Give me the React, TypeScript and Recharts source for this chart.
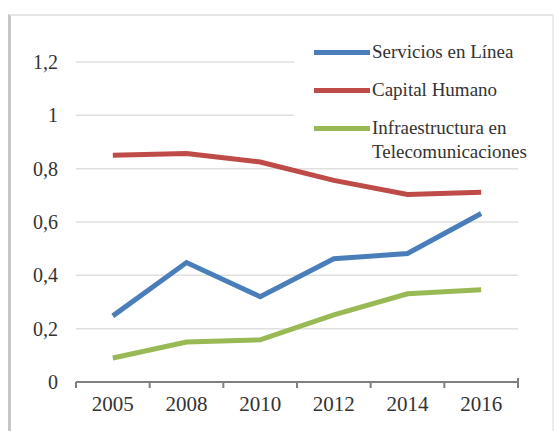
import React from 'react';
import { LineChart, Line, XAxis, YAxis, CartesianGrid, Legend } from 'recharts';

const years = ['2005', '2008', '2010', '2012', '2014', '2016'];
const serviciosEnLinea = [0.248, 0.448, 0.32, 0.462, 0.482, 0.632];
const capitalHumano = [0.85, 0.857, 0.825, 0.756, 0.703, 0.712];
const infraestructura = [0.09, 0.15, 0.158, 0.252, 0.331, 0.346];
const seriesNames = ['Servicios en Línea', 'Capital Humano', 'Infraestructura en Telecomunicaciones'];
const yTicks = [0, 0.2, 0.4, 0.6, 0.8, 1, 1.2];

const data = years.map((year, i) => ({
  year,
  servicios: serviciosEnLinea[i],
  capital: capitalHumano[i],
  infra: infraestructura[i],
}));

const FONT = '"Liberation Serif", "Times New Roman", serif';
const AXIS_COLOR = '#7f7f7f';
const TICK_MARGIN = 14;

// category label plus Excel-style tick marks between the categories
function YearTick(props: any) {
  const { x, y, payload, index, visibleTicksCount, width } = props;
  const half = width / visibleTicksCount / 2;
  const axisY = y - TICK_MARGIN;
  return (
    <g>
      <line x1={x - half} x2={x - half} y1={axisY} y2={axisY + 6} stroke={AXIS_COLOR} strokeWidth={2} />
      {index === visibleTicksCount - 1 && (
        <line x1={x + half} x2={x + half} y1={axisY - 4} y2={axisY + 6} stroke={AXIS_COLOR} strokeWidth={2} />
      )}
      <text x={x} y={y} dy="0.71em" textAnchor="middle" fontSize={21} fill="#333" fontFamily={FONT}>
        {payload.value}
      </text>
    </g>
  );
}

function LegendContent({ payload }: any) {
  const items = [...(payload || [])].sort(
    (a: any, b: any) => seriesNames.indexOf(a.value) - seriesNames.indexOf(b.value)
  );
  return (
    <div style={{ background: '#fff', padding: '8px 0 4px 20px', fontFamily: FONT, textAlign: 'left' }}>
      {items.map((p: any, i: number) => (
        <div
          key={p.value}
          style={{ display: 'flex', alignItems: 'flex-start', marginBottom: i < items.length - 1 ? 14 : 0 }}
        >
          <div style={{ width: 56, height: 5, background: p.color, marginTop: 10, flexShrink: 0 }} />
          <span style={{ fontSize: 19, lineHeight: '24px', color: '#333', width: 165, marginLeft: 2 }}>
            {p.value}
          </span>
        </div>
      ))}
    </div>
  );
}

export default function App() {
  return (
    <div style={{ position: 'absolute', left: 0, top: 0, width: 556, height: 431, background: '#fff', overflow: 'hidden' }}>
      <div
        style={{
          position: 'absolute',
          left: 8,
          top: 14,
          width: 541,
          height: 440,
          borderLeft: '3px solid #c6c6c6',
          borderTop: '2px solid #e6e6e6',
          borderRight: '2px solid #ececec',
        }}
      />
      <LineChart
        width={556}
        height={431}
        data={data}
        margin={{ top: 62, right: 38, bottom: 48, left: 0 }}
        style={{ position: 'absolute', left: 0, top: 0 }}
      >
        <CartesianGrid vertical={false} stroke="#e0e0e0" strokeWidth={1.5} />
        <XAxis
          dataKey="year"
          scale="band"
          height={1}
          interval={0}
          axisLine={{ stroke: AXIS_COLOR, strokeWidth: 2 }}
          tickLine={false}
          tickSize={0}
          tickMargin={TICK_MARGIN}
          tick={<YearTick />}
        />
        <YAxis
          width={76}
          domain={[0, 1.2]}
          ticks={yTicks}
          axisLine={false}
          tickLine={false}
          tickSize={0}
          tickMargin={18}
          tickFormatter={(v: number) => String(v).replace('.', ',')}
          tick={{ fontSize: 20, fill: '#333', fontFamily: FONT }}
        />
        <Legend
          layout="vertical"
          verticalAlign="middle"
          align="center"
          content={<LegendContent />}
          wrapperStyle={{ left: 294, top: 32, width: 250 }}
        />
        <Line dataKey="servicios" name={seriesNames[0]} stroke="#4a7ebb" strokeWidth={5} dot={false} isAnimationActive={false} />
        <Line dataKey="capital" name={seriesNames[1]} stroke="#be4b48" strokeWidth={5} dot={false} isAnimationActive={false} />
        <Line dataKey="infra" name={seriesNames[2]} stroke="#98b954" strokeWidth={5} dot={false} isAnimationActive={false} />
      </LineChart>
    </div>
  );
}
